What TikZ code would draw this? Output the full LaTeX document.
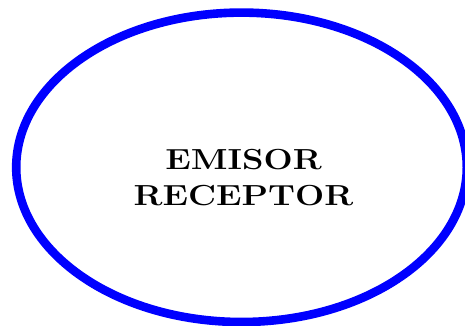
\documentclass[tikz,border=0pt]{standalone}
\usepackage{fontspec}
\setmainfont{Latin Modern Roman}
\usetikzlibrary{shapes.geometric}
\begin{document}
\begin{tikzpicture}[x=1pt,y=1pt,
  ring/.style={draw=blue,line width=8.6pt,ellipse,inner sep=0pt,minimum width=450.6pt,minimum height=309.4pt},
  txtbox/.style={font=\fontsize{29}{34}\selectfont\bfseries,align=center,inner sep=0pt}]
\useasboundingbox (0,0) rectangle (465,326);
\node[ring] (e) at (241.5,158.7) {};
\node[txtbox,anchor=base] (l1) at (243.5,156.5) {\scalebox{1.19}[1]{EMISOR}};
\node[txtbox,anchor=base] (l2) at (243.5,120) {\scalebox{1.19}[1]{RECEPTOR}};
\end{tikzpicture}
\end{document}
